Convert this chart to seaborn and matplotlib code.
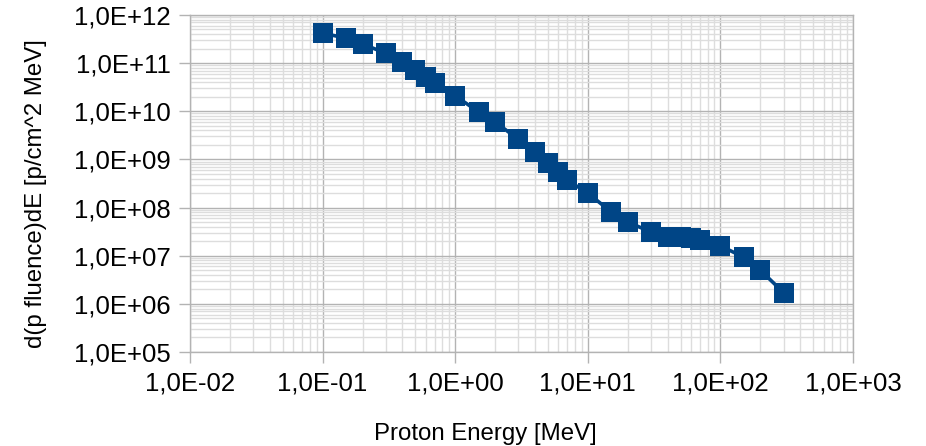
import matplotlib
matplotlib.use("Agg")
import matplotlib.pyplot as plt
from matplotlib.ticker import LogLocator, FuncFormatter, NullFormatter
import seaborn as sns
import pandas as pd
import numpy as np

# Proton differential fluence spectrum
energy_mev = [0.1, 0.15, 0.2, 0.3, 0.4, 0.5, 0.6, 0.7, 1.0, 1.5, 2.0, 3.0, 4.0, 5.0,
              6.0, 7.0, 10.0, 15.0, 20.0, 30.0, 40.0, 50.0, 60.0, 70.0, 100.0,
              150.0, 200.0, 300.0]
fluence = [4.2e11, 3.3e11, 2.5e11, 1.6e11, 1.06e11, 7.2e10, 5.2e10, 3.8e10, 2.1e10,
           9.7e9, 6.0e9, 2.6e9, 1.4e9, 8.5e8, 5.5e8, 3.7e8, 2.0e8, 8.1e7, 5.0e7,
           3.1e7, 2.45e7, 2.4e7, 2.3e7, 2.1e7, 1.6e7, 9.3e6, 5.0e6, 1.7e6]

x_label = "Proton Energy [MeV]"
y_label = "d(p fluence)dE [p/cm^2 MeV]"

df = pd.DataFrame({"energy": energy_mev, "fluence": fluence})

sns.set_theme(style="white")
plt.rcParams["font.family"] = ["Liberation Sans", "DejaVu Sans"]

fig = plt.figure(figsize=(9.26, 4.46), dpi=100)
ax = fig.add_axes([0.2052, 0.2108, 0.716, 0.7556])

major_c = "#b3b3b3"
minor_c = "#dddddd"

ax.set_xscale("log")
ax.set_yscale("log")
ax.set_xlim(1e-2, 1e3)
ax.set_ylim(1e5, 1e12)

ax.xaxis.set_major_locator(LogLocator(base=10, numticks=20))
ax.yaxis.set_major_locator(LogLocator(base=10, numticks=20))
ax.xaxis.set_minor_locator(LogLocator(base=10, subs=np.arange(2, 10), numticks=20))
ax.yaxis.set_minor_locator(LogLocator(base=10, subs=np.arange(2, 10), numticks=20))


def sci_comma(v, pos):
    e = int(round(np.log10(v)))
    sign = "+" if e >= 0 else "-"
    return f"1,0E{sign}{abs(e):02d}"


ax.xaxis.set_major_formatter(FuncFormatter(sci_comma))
ax.yaxis.set_major_formatter(FuncFormatter(sci_comma))
ax.xaxis.set_minor_formatter(NullFormatter())
ax.yaxis.set_minor_formatter(NullFormatter())

ax.grid(which="minor", color=minor_c, linewidth=1.0, zorder=0)
ax.grid(which="major", color=major_c, linewidth=1.0, zorder=0)
ax.set_axisbelow(True)

sns.lineplot(data=df, x="energy", y="fluence", ax=ax, color="#004586",
             linewidth=2.6, marker="s", markersize=14.5, markeredgewidth=0,
             zorder=3, clip_on=False)

for s in ax.spines.values():
    s.set_color(major_c)
    s.set_linewidth(1.0)

ax.tick_params(axis="both", which="major", direction="out", length=8,
               width=1.0, color=major_c, labelsize=18.5, labelcolor="black",
               pad=6, left=True, bottom=True)
ax.tick_params(axis="both", which="minor", length=0)

ax.set_xlabel(x_label, fontsize=17.3, color="black")
ax.set_ylabel(y_label, fontsize=17.3, color="black")
ax.xaxis.set_label_coords(0.446, -0.212)
ax.yaxis.set_label_coords(-0.215, 0.47)

fig.savefig("out.png", dpi=100, facecolor="white")
